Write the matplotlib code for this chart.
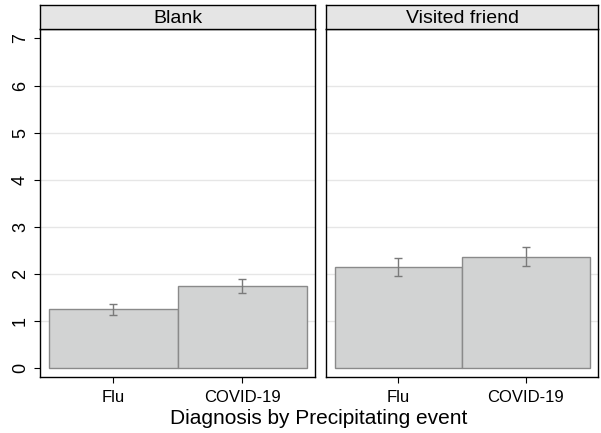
import matplotlib

matplotlib.use("Agg")
import matplotlib.pyplot as plt

plt.rcParams["font.family"] = ["Liberation Sans", "DejaVu Sans"]

diagnoses = ["Flu", "COVID-19"]
events = ["Blank", "Visited friend"]
means = {
    "Blank": [1.25, 1.75],
    "Visited friend": [2.14, 2.37],
}
lower = {
    "Blank": [1.13, 1.60],
    "Visited friend": [1.95, 2.17],
}
upper = {
    "Blank": [1.37, 1.90],
    "Visited friend": [2.34, 2.58],
}
y_ticks = [0, 1, 2, 3, 4, 5, 6, 7]

W, H = 601, 433
fig = plt.figure(figsize=(W / 100, H / 100), dpi=100)

panels = [(40, 315), (326, 598)]
ax_top, ax_bottom = 29, 377
strip_top = 5

x = list(range(len(diagnoses)))
for i, (event, (x0, x1)) in enumerate(zip(events, panels)):
    ax = fig.add_axes([x0 / W, (H - ax_bottom) / H, (x1 - x0) / W, (ax_bottom - ax_top) / H])
    vals = means[event]
    err = [
        [v - lo for v, lo in zip(vals, lower[event])],
        [hi - v for v, hi in zip(vals, upper[event])],
    ]
    ax.bar(x, vals, width=1.0, color="#d2d3d3", edgecolor="#8a8a8a", linewidth=1.0, zorder=2)
    ax.errorbar(x, vals, yerr=err, fmt="none", ecolor="#7a7a7a", elinewidth=1.0,
                capsize=3, capthick=1.0, zorder=3)
    ax.set_xlim(-0.567, 1.565)
    ax.set_ylim(-0.185, 7.2)
    ax.set_yticks(y_ticks)
    for y in y_ticks[1:-1]:
        ax.axhline(y, color="#e6e6e6", linewidth=1.0, zorder=0)
    ax.set_xticks(x)
    ax.set_xticklabels(diagnoses, fontsize=12)
    ax.tick_params(axis="x", length=4, width=0.8, pad=5)
    if i == 0:
        ax.set_yticklabels([str(t) for t in y_ticks], rotation=90, va="center", fontsize=13)
        ax.tick_params(axis="y", length=4, width=0.8, pad=4)
    else:
        ax.set_yticklabels([])
        ax.tick_params(axis="y", length=0)
    for s in ax.spines.values():
        s.set_linewidth(1.0)

    strip = fig.add_axes([x0 / W, (H - ax_top) / H, (x1 - x0) / W, (ax_top - strip_top) / H])
    strip.set_facecolor("#e5e5e5")
    strip.set_xticks([])
    strip.set_yticks([])
    for s in strip.spines.values():
        s.set_linewidth(1.0)
    strip.text(0.5, 0.45, event, ha="center", va="center", fontsize=14, transform=strip.transAxes)

fig.text((40 + 598) / 2 / W, (H - 418) / H, "Diagnosis by Precipitating event",
         ha="center", va="center", fontsize=15)

fig.savefig("out.png", dpi=100)
